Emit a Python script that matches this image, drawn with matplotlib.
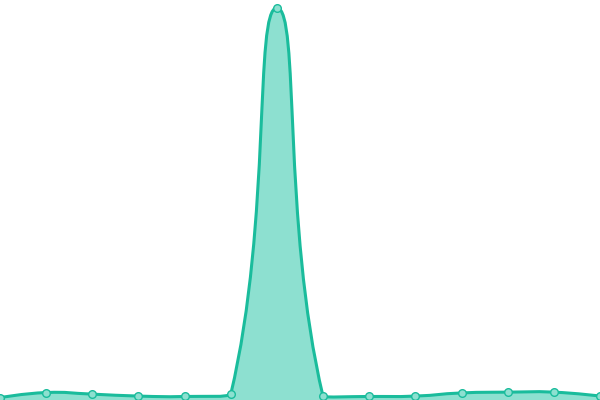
import numpy as np
import matplotlib.pyplot as plt
from matplotlib.path import Path
from matplotlib.patches import PathPatch

# data (peak scaled to 100)
x_vals = list(range(14))
y_vals = [0.6, 1.9, 1.5, 1.0, 0.9, 1.5, 100, 0.9, 0.9, 1.0, 1.8, 2.0, 2.0, 1.0]

line_color = "#1abc9c"
fill_color = "#8de0d0"
smooth = 0.5


def smooth_path(pts):
    # bezier control points from neighbours, clamped to the points' bounding box
    lo = pts.min(axis=0)
    hi = pts.max(axis=0)
    n = len(pts)
    cps = [pts[0].copy()]
    for i in range(1, n - 1):
        p, prev, nxt = pts[i], pts[i - 1], pts[i + 1]
        v = (nxt - prev) * smooth
        d0 = np.hypot(*(p - prev))
        d1 = np.hypot(*(p - nxt))
        s = d0 + d1
        d0, d1 = d0 / s, d1 / s
        c0 = np.clip(p - v * d0, lo, hi)
        c1 = np.clip(p + v * d1, lo, hi)
        cps += [c0, c1]
    cps.append(pts[-1].copy())
    verts = [tuple(pts[0])]
    codes = [Path.MOVETO]
    for i in range(n - 1):
        verts += [tuple(cps[2 * i]), tuple(cps[2 * i + 1]), tuple(pts[i + 1])]
        codes += [Path.CURVE4] * 3
    return np.array(verts), codes


fig = plt.figure(figsize=(6, 4), dpi=100)
ax = fig.add_axes([0, 0, 1, 1])
ax.set_xlim(x_vals[0], x_vals[-1])
ax.set_ylim(0, 102)
ax.axis("off")

to_px = ax.transData
pix = to_px.transform(np.column_stack([x_vals, y_vals]))
verts_px, codes = smooth_path(pix)
verts = to_px.inverted().transform(verts_px)

line_path = Path(verts, codes)
fill_verts = np.vstack([verts, [[x_vals[-1], 0], [x_vals[0], 0], verts[0]]])
fill_codes = codes + [Path.LINETO, Path.LINETO, Path.CLOSEPOLY]
ax.add_patch(PathPatch(Path(fill_verts, fill_codes), facecolor=fill_color,
                       edgecolor="none"))
ax.add_patch(PathPatch(line_path, facecolor="none", edgecolor=line_color,
                       linewidth=2.2, capstyle="round", joinstyle="round"))
ax.plot(x_vals, y_vals, "o", markersize=5.5, markerfacecolor=fill_color,
        markeredgecolor=line_color, markeredgewidth=1.0)

fig.savefig("out.png", dpi=100)
